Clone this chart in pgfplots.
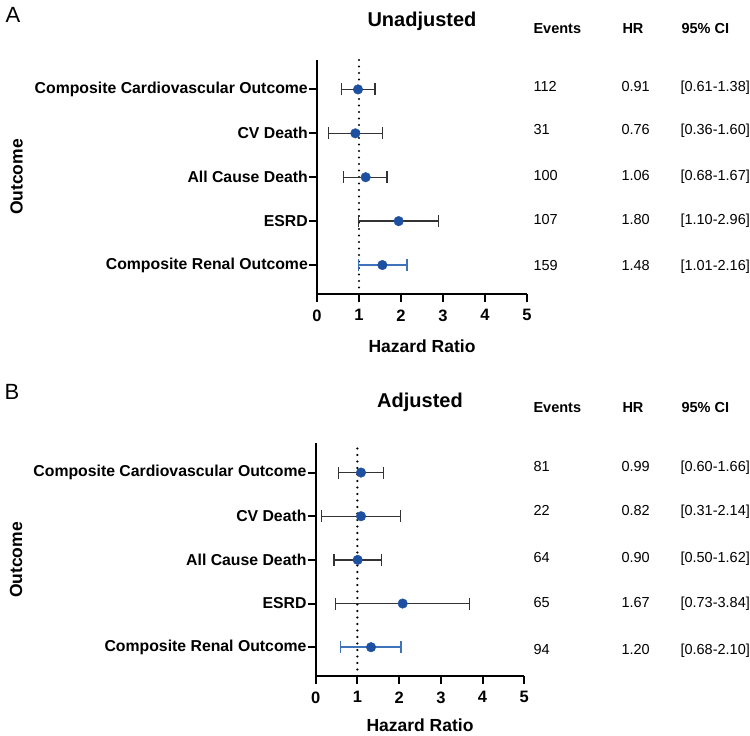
\documentclass[border=0pt]{standalone}
\usepackage{fontspec}
\setmainfont{Liberation Sans}
\usepackage{pgfplots}
\usepackage{pgfplotstable}
\pgfplotsset{compat=1.18}
\definecolor{ptblue}{HTML}{1E50A2}
\definecolor{ciblue}{HTML}{3E73BA}
\definecolor{bargray}{HTML}{333333}

\pgfplotstableread{
y x lo hi
5 0.976 0.587 1.381
4 0.913 0.278 1.563
3 1.159 0.635 1.667
2 1.944 0.992 2.889
}\unadjBlack
\pgfplotstableread{
y x lo hi
1 1.556 0.984 2.143
}\unadjBlue
\pgfplotstableread{
y x lo hi
5 1.086 0.551 1.621
4 1.086 0.136 2.037
3 1.006 0.439 1.573
2 2.085 0.479 3.690
}\adjBlack
\pgfplotstableread{
y x lo hi
1 1.326 0.599 2.045
}\adjBlue

\newcommand{\valfont}{\fontsize{14.5bp}{17bp}\selectfont}
\newcommand{\hdrfont}{\fontsize{14.5bp}{17bp}\selectfont\bfseries}

\pgfplotsset{forest/.style={
  scale only axis,
  xmin=0, xmax=5, ymin=0.34, ymax=5.67,
  axis lines=left,
  axis line style={-, line width=2.2bp},
  tick align=outside,
  major tick length=8bp,
  tick style={black, line width=2bp},
  xtick={0,1,2,3,4,5}, xticklabels={0,1,2,3,4,5},
  ytick={1,2,3,4,5},
  yticklabels={Composite Renal Outcome,ESRD,All Cause Death,CV Death,Composite Cardiovascular Outcome},
  yticklabel style={font=\fontsize{15.8bp}{18bp}\selectfont\bfseries, inner sep=1bp},
  xticklabel style={font=\fontsize{16.5bp}{19bp}\selectfont\bfseries, yshift=-4bp},
  clip=false,
  errA/.style={only marks, mark=*, mark size=4.8bp, mark options={fill=ptblue, draw=ptblue},
    error bars/.cd, x dir=both, x explicit,
    error bar style={line width=1.4bp, #1},
    error mark options={rotate=90, mark size=6bp, line width=1.4bp, #1}},
}}

\begin{document}
\begin{tikzpicture}
\path[use as bounding box] (0,0) rectangle (750bp,-736bp);

% ---------- Panel A ----------
\begin{axis}[forest, at={(317bp,-294bp)}, anchor=south west, width=210bp, height=234bp]
\addplot[black, line width=2.4bp, line cap=round, dash pattern=on 0bp off 6.5bp] coordinates {(1,0.34) (1,5.67)};
\addplot[bargray, errA=bargray]
  table[x=x, y=y, x error plus expr=\thisrow{hi}-\thisrow{x}, x error minus expr=\thisrow{x}-\thisrow{lo}] {\unadjBlack};
\addplot[ciblue, errA=ciblue]
  table[x=x, y=y, x error plus expr=\thisrow{hi}-\thisrow{x}, x error minus expr=\thisrow{x}-\thisrow{lo}] {\unadjBlue};
\end{axis}

% ---------- Panel B ----------
\begin{axis}[forest, at={(315.7bp,-676bp)}, anchor=south west, width=208.6bp, height=232.7bp]
\addplot[black, line width=2.4bp, line cap=round, dash pattern=on 0bp off 6.5bp] coordinates {(1,0.34) (1,5.67)};
\addplot[bargray, errA=bargray]
  table[x=x, y=y, x error plus expr=\thisrow{hi}-\thisrow{x}, x error minus expr=\thisrow{x}-\thisrow{lo}] {\adjBlack};
\addplot[ciblue, errA=ciblue]
  table[x=x, y=y, x error plus expr=\thisrow{hi}-\thisrow{x}, x error minus expr=\thisrow{x}-\thisrow{lo}] {\adjBlue};
\end{axis}

% ---------- Panel letters, titles, axis labels ----------
\node[anchor=center, font=\fontsize{22bp}{26bp}\selectfont] at (13bp,-15bp) {A};
\node[anchor=center, font=\fontsize{22bp}{26bp}\selectfont] at (12bp,-392bp) {B};

\node[anchor=base, font=\fontsize{20bp}{24bp}\selectfont\bfseries] at (422bp,-26.5bp) {Unadjusted};
\node[anchor=base, font=\fontsize{20bp}{24bp}\selectfont\bfseries] at (420bp,-407.6bp) {Adjusted};

\node[anchor=base, font=\fontsize{17.5bp}{20bp}\selectfont\bfseries] at (422bp,-352bp) {Hazard Ratio};
\node[anchor=base, font=\fontsize{17.5bp}{20bp}\selectfont\bfseries] at (420bp,-731.8bp) {Hazard Ratio};

\node[rotate=90, anchor=center, font=\fontsize{17.5bp}{20bp}\selectfont\bfseries] at (16.5bp,-177bp) {Outcome};
\node[rotate=90, anchor=center, font=\fontsize{17.5bp}{20bp}\selectfont\bfseries] at (16bp,-560bp) {Outcome};

% ---------- Table A ----------
\node[anchor=base west, font=\hdrfont] at (530bp,-33.2bp) {Events};
\node[anchor=base west, font=\hdrfont] at (619bp,-33.2bp) {HR};
\node[anchor=base west, font=\hdrfont] at (678bp,-33.2bp) {95\% CI};
\foreach \ev/\hr/\ci/\yy in {112/0.91/[0.61-1.38]/91.9, 31/0.76/[0.36-1.60]/134.2, 100/1.06/[0.68-1.67]/180.2, 107/1.80/[1.10-2.96]/224.2, 159/1.48/[1.01-2.16]/270.2}{
  \node[anchor=base west, font=\valfont] at (530bp,-\yy bp) {\ev};
  \node[anchor=base west, font=\valfont] at (618bp,-\yy bp) {\hr};
  \node[anchor=base west, font=\valfont] at (677bp,-\yy bp) {\ci};
}

% ---------- Table B ----------
\node[anchor=base west, font=\hdrfont] at (530bp,-412.2bp) {Events};
\node[anchor=base west, font=\hdrfont] at (619bp,-412.2bp) {HR};
\node[anchor=base west, font=\hdrfont] at (678bp,-412.2bp) {95\% CI};
\foreach \ev/\hr/\ci/\yy in {81/0.99/[0.60-1.66]/471.9, 22/0.82/[0.31-2.14]/515.5, 64/0.90/[0.50-1.62]/562.7, 65/1.67/[0.73-3.84]/607.7, 94/1.20/[0.68-2.10]/654.7}{
  \node[anchor=base west, font=\valfont] at (530bp,-\yy bp) {\ev};
  \node[anchor=base west, font=\valfont] at (618bp,-\yy bp) {\hr};
  \node[anchor=base west, font=\valfont] at (677bp,-\yy bp) {\ci};
}
\end{tikzpicture}
\end{document}
